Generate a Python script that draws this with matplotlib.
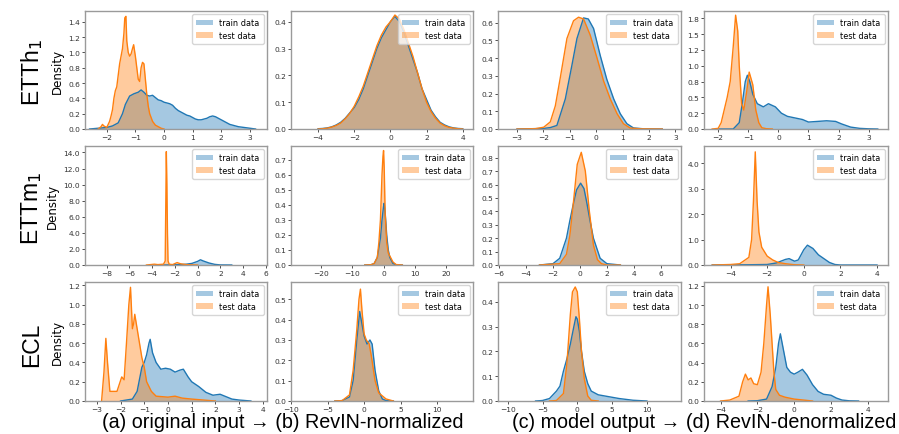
import matplotlib
matplotlib.use("Agg")
import matplotlib.pyplot as plt
from matplotlib.ticker import MultipleLocator, FormatStrFormatter
from matplotlib.patches import Patch

# ---------------- data ----------------
# Row 1: ETTh1
etth1_a_train_x = [-2.6,-2.3,-2.0,-1.8,-1.6,-1.45,-1.35,-1.2,-1.05,-0.9,-0.8,-0.7,-0.6,-0.5,-0.4,-0.3,-0.2,-0.1,0.0,0.1,0.2,0.3,0.4,0.5,0.6,0.7,0.8,0.9,1.0,1.1,1.2,1.3,1.4,1.5,1.6,1.7,1.8,1.9,2.0,2.1,2.2,2.3,2.4,2.5,2.6,2.8,3.0,3.2]
etth1_a_train_y = [0.0,0.01,0.02,0.04,0.08,0.2,0.32,0.43,0.46,0.48,0.51,0.48,0.44,0.43,0.44,0.41,0.38,0.37,0.35,0.34,0.33,0.31,0.27,0.24,0.22,0.2,0.18,0.17,0.15,0.13,0.12,0.12,0.13,0.14,0.16,0.17,0.16,0.14,0.12,0.1,0.08,0.06,0.05,0.04,0.03,0.02,0.01,0.0]
etth1_a_test_x = [-2.3,-2.2,-2.15,-2.1,-2.0,-1.9,-1.85,-1.8,-1.75,-1.7,-1.65,-1.6,-1.55,-1.5,-1.45,-1.4,-1.37,-1.33,-1.3,-1.25,-1.2,-1.15,-1.1,-1.06,-1.0,-0.95,-0.9,-0.85,-0.8,-0.75,-0.7,-0.65,-0.6,-0.55,-0.5,-0.4,-0.3,-0.2,-0.1,0.0]
etth1_a_test_y = [0.0,0.03,0.06,0.04,0.02,0.1,0.17,0.25,0.4,0.5,0.55,0.7,0.85,0.95,1.05,1.25,1.45,1.47,1.15,1.0,0.95,0.98,1.05,1.1,0.95,0.8,0.65,0.62,0.8,0.87,0.85,0.65,0.45,0.3,0.2,0.1,0.05,0.03,0.01,0.0]

etth1_b_x = [-4,-3.75,-3.5,-3.25,-3,-2.75,-2.5,-2.25,-2,-1.75,-1.5,-1.25,-1,-0.75,-0.5,-0.25,0,0.25,0.5,0.75,1,1.25,1.5,1.75,2,2.25,2.5,2.75,3,3.25,3.5,3.75,4]
etth1_b_train_y = [0.001,0.002,0.004,0.008,0.015,0.025,0.04,0.06,0.08,0.11,0.15,0.2,0.25,0.3,0.34,0.37,0.4,0.42,0.4,0.36,0.31,0.26,0.21,0.15,0.11,0.07,0.045,0.025,0.015,0.008,0.004,0.002,0.001]
etth1_b_test_y = [0.0,0.001,0.003,0.007,0.013,0.022,0.038,0.058,0.085,0.12,0.16,0.21,0.26,0.31,0.35,0.38,0.4,0.425,0.41,0.37,0.32,0.27,0.21,0.15,0.1,0.065,0.04,0.022,0.012,0.006,0.003,0.001,0.0]

etth1_c_train_x = [-3.0,-2.0,-1.74,-1.49,-1.17,-0.92,-0.73,-0.48,-0.3,-0.1,0.15,0.4,0.66,0.91,1.16,1.41,1.8,2.5]
etth1_c_train_y = [0.0,0.003,0.008,0.02,0.17,0.36,0.51,0.626,0.62,0.566,0.415,0.28,0.17,0.086,0.03,0.006,0.001,0.0]
etth1_c_test_x = [-3.0,-2.3,-1.99,-1.74,-1.55,-1.36,-1.11,-0.86,-0.67,-0.48,-0.23,0.03,0.28,0.53,0.79,1.03,1.29,1.7,2.5]
etth1_c_test_y = [0.0,0.002,0.01,0.04,0.13,0.29,0.51,0.61,0.63,0.62,0.53,0.4,0.27,0.17,0.086,0.03,0.005,0.001,0.0]

etth1_d_train_x = [-2.0,-1.5,-1.3,-1.2,-1.1,-1.03,-0.95,-0.85,-0.7,-0.5,-0.33,-0.1,0.1,0.3,0.5,0.8,1.0,1.3,1.6,1.9,2.1,2.4,2.7,3.0,3.3]
etth1_d_train_y = [0.0,0.0,0.1,0.4,0.75,0.85,0.75,0.55,0.4,0.35,0.4,0.35,0.25,0.2,0.18,0.15,0.11,0.12,0.13,0.12,0.08,0.03,0.01,0.003,0.0]
etth1_d_test_x = [-2.2,-2.0,-1.9,-1.8,-1.7,-1.6,-1.5,-1.42,-1.35,-1.3,-1.22,-1.15,-1.05,-0.97,-0.85,-0.75,-0.65,-0.55,-0.4,-0.2]
etth1_d_test_y = [0.0,0.01,0.1,0.3,0.5,0.75,1.3,1.8,1.55,1.0,0.4,0.3,0.6,0.9,0.7,0.3,0.1,0.02,0.005,0.0]

# Row 2: ETTm1
ettm1_a_train_x = [-3.0,-2.5,-2.0,-1.5,-1.0,-0.5,0.0,0.25,0.5,1.0,1.5,2.0,3.0]
ettm1_a_train_y = [0.0,0.01,0.03,0.05,0.1,0.2,0.45,0.65,0.5,0.25,0.08,0.01,0.0]
ettm1_a_test_x = [-4.5,-3.8,-3.5,-3.0,-2.85,-2.78,-2.75,-2.7,-2.65,-2.6,-2.5,-2.2,-1.8,-1.5,-1.0,-0.5,0.0]
ettm1_a_test_y = [0.0,0.1,0.05,0.1,0.5,10.0,14.1,10.0,4.0,0.5,0.1,0.05,0.3,0.15,0.05,0.02,0.0]

ettm1_b_train_x = [-6,-4,-3,-2,-1,-0.5,0,0.2,0.5,1,1.5,2,3,4,6]
ettm1_b_train_y = [0.0,0.002,0.01,0.05,0.18,0.3,0.39,0.41,0.35,0.2,0.1,0.05,0.01,0.002,0.0]
ettm1_b_test_x = [-6,-4,-3,-2,-1.5,-1,-0.5,-0.2,0,0.2,0.5,1,1.5,2,2.5,3,4,6]
ettm1_b_test_y = [0.0,0.002,0.01,0.05,0.15,0.3,0.6,0.72,0.76,0.65,0.35,0.15,0.08,0.06,0.04,0.02,0.003,0.0]

ettm1_c_train_x = [-3.0,-2.0,-1.5,-1.0,-0.75,-0.5,-0.25,0.05,0.3,0.5,0.75,1.0,1.5,2.0,3.0]
ettm1_c_train_y = [0.0,0.01,0.05,0.2,0.33,0.45,0.56,0.61,0.57,0.47,0.33,0.2,0.05,0.01,0.0]
ettm1_c_test_x = [-3.0,-1.5,-1.0,-0.75,-0.5,-0.2,0.1,0.4,0.7,1.0,1.3,1.6,2.0,3.0]
ettm1_c_test_y = [0.0,0.01,0.08,0.22,0.45,0.75,0.84,0.7,0.4,0.15,0.04,0.01,0.0,0.0]

ettm1_d_train_x = [-5.0,-3.0,-2.0,-1.5,-1.0,-0.8,-0.5,-0.3,0.0,0.2,0.5,0.8,1.1,1.4,1.7,2.0,4.0]
ettm1_d_train_y = [0.0,0.01,0.02,0.08,0.22,0.25,0.15,0.2,0.6,0.78,0.65,0.4,0.25,0.1,0.02,0.0,0.0]
ettm1_d_test_x = [-5.0,-4.5,-4.0,-3.5,-3.0,-2.85,-2.75,-2.65,-2.55,-2.45,-2.3,-2.0,-1.7,-1.4,-1.0,-0.5,0.0]
ettm1_d_test_y = [0.0,0.01,0.02,0.05,0.3,1.0,2.5,4.45,2.5,1.3,0.7,0.35,0.2,0.1,0.05,0.01,0.0]

# Row 3: ECL
ecl_a_train_x = [-2.0,-1.5,-1.3,-1.1,-1.0,-0.9,-0.8,-0.75,-0.65,-0.5,-0.3,-0.1,0.1,0.3,0.5,0.65,0.85,1.0,1.3,1.6,1.9,2.2,2.4,2.7,3.0,3.5]
ecl_a_train_y = [0.0,0.02,0.1,0.35,0.4,0.48,0.6,0.64,0.5,0.4,0.33,0.34,0.33,0.3,0.32,0.33,0.25,0.2,0.15,0.09,0.06,0.07,0.05,0.02,0.01,0.0]
ecl_a_test_x = [-2.8,-2.7,-2.62,-2.55,-2.45,-2.3,-2.15,-1.95,-1.85,-1.75,-1.65,-1.58,-1.5,-1.45,-1.4,-1.3,-1.2,-1.1,-1.0,-0.9,-0.7,-0.5,0.0,0.3,0.6,1.0,1.5,2.0]
ecl_a_test_y = [0.0,0.3,0.65,0.4,0.1,0.1,0.1,0.25,0.22,0.6,1.0,1.18,0.75,0.8,0.9,0.75,0.6,0.45,0.35,0.2,0.1,0.05,0.04,0.05,0.03,0.02,0.01,0.0]

ecl_b_train_x = [-4.0,-3.0,-2.0,-1.5,-1.0,-0.6,-0.3,0.0,0.4,0.8,1.1,1.5,2.0,2.5,3.0,4.0]
ecl_b_train_y = [0.0,0.002,0.02,0.1,0.3,0.44,0.38,0.32,0.28,0.3,0.28,0.15,0.05,0.01,0.002,0.0]
ecl_b_test_x = [-4.0,-3.0,-2.0,-1.5,-1.0,-0.7,-0.5,-0.3,0.0,0.3,0.7,1.0,1.5,2.0,3.0,4.0]
ecl_b_test_y = [0.0,0.002,0.03,0.15,0.35,0.5,0.55,0.45,0.33,0.3,0.28,0.22,0.1,0.04,0.01,0.0]

ecl_c_train_x = [-6.0,-5.0,-4.0,-3.0,-2.5,-2.0,-1.5,-1.0,-0.5,-0.2,0.0,0.3,0.6,1.0,1.5,2.0,3.0,4.0,5.0,6.0,8.0,10.0]
ecl_c_train_y = [0.0,0.002,0.01,0.04,0.06,0.12,0.17,0.23,0.3,0.34,0.33,0.28,0.2,0.12,0.07,0.04,0.025,0.02,0.015,0.01,0.003,0.0]
ecl_c_test_x = [-4.0,-3.0,-2.0,-1.5,-1.0,-0.7,-0.3,0.0,0.3,0.6,1.0,1.5,2.0,3.0]
ecl_c_test_y = [0.0,0.002,0.03,0.15,0.35,0.44,0.46,0.44,0.33,0.2,0.09,0.02,0.003,0.0]

ecl_d_train_x = [-2.5,-2.0,-1.5,-1.2,-1.0,-0.85,-0.75,-0.6,-0.4,-0.2,0.0,0.2,0.45,0.7,1.0,1.3,1.6,2.0,2.3,2.6,3.0,3.5]
ecl_d_train_y = [0.0,0.003,0.02,0.15,0.35,0.6,0.7,0.55,0.35,0.3,0.28,0.3,0.33,0.27,0.17,0.1,0.07,0.06,0.03,0.01,0.002,0.0]
ecl_d_test_x = [-4.0,-3.5,-3.0,-2.8,-2.65,-2.5,-2.35,-2.2,-2.0,-1.8,-1.65,-1.5,-1.42,-1.3,-1.2,-1.1,-1.0,-0.8,-0.5,0.0,0.5,1.0]
ecl_d_test_y = [0.0,0.01,0.05,0.2,0.28,0.22,0.24,0.18,0.17,0.3,0.6,1.0,1.19,0.9,0.6,0.3,0.12,0.06,0.04,0.02,0.01,0.0]

row_labels = [r"ETTh$_1$", r"ETTm$_1$", "ECL"]
captions = ["(a) original input \u2192 (b) RevIN-normalized",
            "(c) model output \u2192 (d) RevIN-denormalized"]
legend_labels = ["train data", "test data"]

panels = [
    [(etth1_a_train_x, etth1_a_train_y, etth1_a_test_x, etth1_a_test_y),
     (etth1_b_x, etth1_b_train_y, etth1_b_x, etth1_b_test_y),
     (etth1_c_train_x, etth1_c_train_y, etth1_c_test_x, etth1_c_test_y),
     (etth1_d_train_x, etth1_d_train_y, etth1_d_test_x, etth1_d_test_y)],
    [(ettm1_a_train_x, ettm1_a_train_y, ettm1_a_test_x, ettm1_a_test_y),
     (ettm1_b_train_x, ettm1_b_train_y, ettm1_b_test_x, ettm1_b_test_y),
     (ettm1_c_train_x, ettm1_c_train_y, ettm1_c_test_x, ettm1_c_test_y),
     (ettm1_d_train_x, ettm1_d_train_y, ettm1_d_test_x, ettm1_d_test_y)],
    [(ecl_a_train_x, ecl_a_train_y, ecl_a_test_x, ecl_a_test_y),
     (ecl_b_train_x, ecl_b_train_y, ecl_b_test_x, ecl_b_test_y),
     (ecl_c_train_x, ecl_c_train_y, ecl_c_test_x, ecl_c_test_y),
     (ecl_d_train_x, ecl_d_train_y, ecl_d_test_x, ecl_d_test_y)],
]

# ---------------- layout / styles ----------------
xlims = [[(-2.76, 3.6), (-5.5, 4.57), (-3.72, 3.21), (-2.47, 3.64)],
         [(-9.9, 6.1), (-29.6, 28.6), (-6.08, 7.5), (-5.45, 4.6)],
         [(-3.5, 4.18), (-10.0, 14.9), (-11.4, 14.9), (-4.9, 5.1)]]
ylims = [[1.54, 0.44, 0.665, 1.866],
         [14.8, 0.79, 0.887, 4.68],
         [1.235, 0.585, 0.48, 1.24]]
xsteps = [[1, 2, 1, 1], [2, 10, 2, 2], [1, 5, 5, 2]]
ysteps = [[0.2, 0.1, 0.1, 0.25], [2.0, 0.1, 0.1, 1.0], [0.2, 0.1, 0.1, 0.2]]

W, H = 899, 435
col_left = [85, 291, 498, 704]
col_w = [182, 182, 183, 184]
row_top = [12, 147, 283]
row_h = [118, 119, 119]

blue = "#1f77b4"
orange = "#ff7f0e"
spine_col = "#9a9a9a"
big_font = ["Liberation Sans", "DejaVu Sans"]

fig = plt.figure(figsize=(W / 100, H / 100), dpi=100)

for r in range(3):
    for c in range(4):
        ax = fig.add_axes([col_left[c] / W, 1 - (row_top[r] + row_h[r]) / H,
                           col_w[c] / W, row_h[r] / H])
        trx, tr_y, tex, te_y = panels[r][c]
        ax.fill_between(trx, tr_y, 0, color=blue, alpha=0.4, linewidth=0)
        ax.fill_between(tex, te_y, 0, color=orange, alpha=0.4, linewidth=0)
        ax.plot(trx, tr_y, color=blue, lw=1.0)
        ax.plot(tex, te_y, color=orange, lw=1.0)
        ax.set_xlim(*xlims[r][c])
        ax.set_ylim(0, ylims[r][c])
        ax.xaxis.set_major_locator(MultipleLocator(xsteps[r][c]))
        ax.yaxis.set_major_locator(MultipleLocator(ysteps[r][c]))
        ax.yaxis.set_major_formatter(FormatStrFormatter("%.1f"))
        ax.tick_params(labelsize=5.4, length=2, width=0.6, pad=1.5,
                       colors="#333333")
        for s in ax.spines.values():
            s.set_color(spine_col)
            s.set_linewidth(1.0)
        handles = [Patch(facecolor=blue, alpha=0.4), Patch(facecolor=orange, alpha=0.4)]
        ax.legend(handles, legend_labels, loc="upper right", fontsize=5.9,
                  frameon=True, borderpad=0.5, handlelength=2.0,
                  labelspacing=0.4, borderaxespad=0.4)
        if c == 0:
            ax.set_ylabel("Density", fontsize=8.5, labelpad=3)

for r in range(3):
    yc = 1 - (row_top[r] + row_h[r] / 2 + 2) / H
    fig.text(32 / W, yc, row_labels[r], rotation=90, fontsize=16.5,
             family=big_font, ha="center", va="center")

fig.text(102 / W, 0.015, captions[0], fontsize=14.2,
         family=big_font, ha="left", va="baseline")
fig.text(896 / W, 0.015, captions[1], fontsize=14.2,
         family=big_font, ha="right", va="baseline")

fig.savefig("out.png", dpi=100)
